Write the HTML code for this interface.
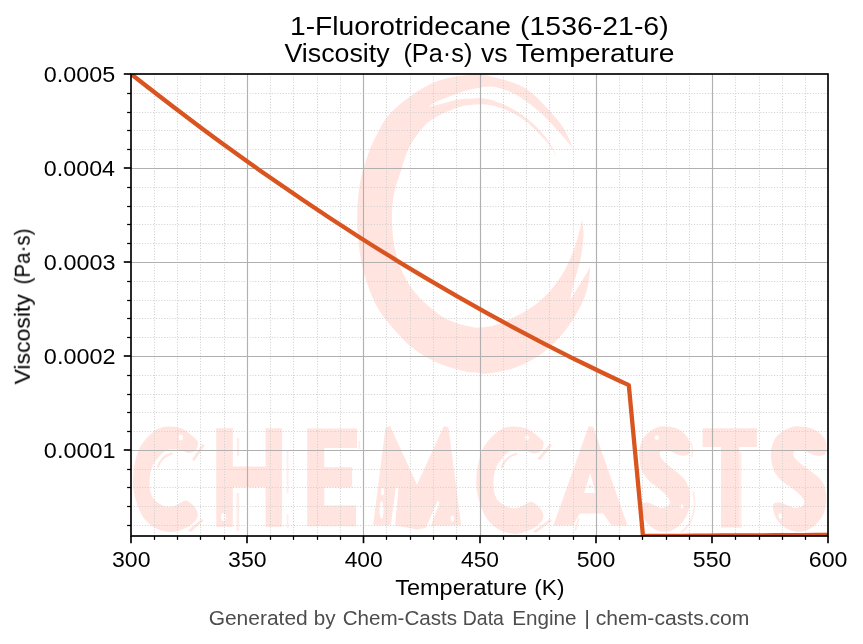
<!DOCTYPE html>
<html lang="en"><head><meta charset="utf-8"><title>1-Fluorotridecane Viscosity vs Temperature</title>
<style>html,body{margin:0;padding:0;background:#fff;}body{width:863px;height:644px;overflow:hidden;font-family:"Liberation Sans",sans-serif;}svg{display:block;}</style></head>
<body>
<svg width="863" height="644" viewBox="0 0 863 644">
<rect width="863" height="644" fill="#fff"/>
<defs><clipPath id="ax"><rect x="131.0" y="74.0" width="697.0" height="462.0"/></clipPath></defs>
<g clip-path="url(#ax)" fill="#ffe4df" stroke="none">
<path d="M480.0 373.0 C477.4 372.7 471.1 372.8 464.3 371.2 C457.5 369.6 447.6 367.2 439.3 363.6 C431.0 360.0 422.0 355.2 414.3 349.3 C406.6 343.4 399.4 335.6 392.9 327.9 C386.3 320.2 380.1 313.0 375.0 302.9 C369.9 292.8 365.4 279.0 362.5 267.1 C359.6 255.2 358.5 241.8 357.7 231.4 C356.9 221.1 357.2 213.4 357.6 205.0 C358.1 196.6 359.0 188.4 360.4 181.0 C361.8 173.6 363.6 167.6 366.0 160.5 C368.4 153.4 371.1 145.9 374.9 138.3 C378.7 130.7 382.6 122.2 388.8 115.0 C395.0 107.8 404.6 100.3 412.1 94.9 C419.6 89.5 426.4 85.5 433.9 82.4 C441.4 79.3 449.5 77.5 457.2 76.2 C464.9 75.0 474.0 74.8 480.0 74.9 C486.0 75.0 487.2 75.5 493.3 77.0 C499.4 78.5 510.1 81.3 516.6 84.0 C523.1 86.7 526.9 89.2 532.1 93.3 C537.3 97.4 542.5 103.1 547.7 108.8 C552.9 114.5 558.9 120.8 563.2 127.5 C567.5 134.2 571.6 145.6 573.3 149.2 C571.6 147.1 567.5 141.7 563.2 136.8 C558.9 131.9 552.9 124.9 547.7 119.7 C542.5 114.5 537.3 109.8 532.1 105.7 C526.9 101.6 521.8 97.8 516.6 94.9 C511.4 92.1 505.4 90.0 501.0 88.6 C496.6 87.2 494.3 86.5 490.0 86.5 C485.7 86.5 480.2 87.4 475.0 88.5 C469.8 89.6 465.0 90.8 458.7 93.0 C452.4 95.2 442.1 99.2 437.0 101.5 C431.9 103.8 429.8 106.1 428.4 107.0 C429.8 106.7 431.9 106.2 437.0 105.0 C442.1 103.8 453.2 100.5 458.7 99.5 C464.2 98.5 465.5 98.8 470.0 98.7 C474.5 98.6 480.3 97.9 485.5 98.7 C490.7 99.5 495.8 101.3 501.0 103.4 C506.2 105.5 511.4 108.0 516.6 111.2 C521.8 114.4 526.9 118.0 532.1 122.8 C537.3 127.6 543.4 134.0 547.7 139.9 C552.0 145.8 556.1 155.4 557.8 158.5 C556.1 155.9 552.0 148.3 547.7 143.0 C543.4 137.7 537.3 131.4 532.1 126.7 C526.9 122.0 521.8 118.1 516.6 115.0 C511.4 111.9 506.2 109.8 501.0 108.0 C495.8 106.2 490.7 105.0 485.5 104.5 C480.3 104.0 474.5 104.5 470.0 105.0 C465.5 105.5 464.2 105.4 458.7 107.3 C453.2 109.2 442.9 113.2 437.0 116.6 C431.1 120.0 427.7 122.3 423.0 127.5 C418.3 132.7 412.6 140.7 409.0 147.7 C405.4 154.7 403.9 161.4 401.3 169.4 C398.7 177.4 395.1 186.5 393.6 195.7 C392.1 204.8 391.8 214.8 392.1 224.3 C392.5 233.8 393.2 243.4 395.7 252.9 C398.2 262.4 402.2 273.1 407.1 281.4 C412.0 289.7 418.4 296.6 425.0 302.9 C431.6 309.1 439.2 315.0 446.4 318.9 C453.5 322.8 462.3 324.7 467.9 326.1 C473.5 327.5 474.7 327.9 480.0 327.5 C485.3 327.1 491.3 326.9 499.5 323.8 C507.7 320.7 520.6 314.4 529.0 309.0 C537.4 303.6 543.7 297.8 549.6 291.4 C555.5 285.0 560.1 278.2 564.3 270.8 C568.5 263.4 572.0 254.6 574.7 247.2 C577.4 239.8 579.3 231.2 580.5 226.5 C581.7 221.8 581.8 220.4 582.0 219.2 C582.2 221.9 583.8 228.8 583.5 235.4 C583.2 242.0 582.2 250.7 580.5 259.0 C578.8 267.4 574.9 278.6 573.2 285.5 C571.5 292.4 570.7 297.8 570.2 300.2 C571.7 297.8 576.3 289.9 579.0 285.5 C581.7 281.1 584.5 276.9 586.4 273.7 C588.3 270.5 589.6 267.5 590.3 266.3 C589.9 269.5 589.4 279.4 588.0 285.5 C586.6 291.6 585.0 296.8 582.0 303.2 C579.0 309.6 574.6 317.4 570.2 323.8 C565.8 330.2 560.9 336.1 555.5 341.5 C550.1 346.9 544.7 351.9 537.8 356.3 C530.9 360.7 522.6 365.1 514.2 368.0 C505.9 370.9 493.4 372.8 487.7 373.6 C482.0 374.4 481.3 373.1 480.0 373.0 Z"/>
<path d="M198.0 443.8 C198.2 442.1 198.4 442.0 196.8 440.2 C195.2 438.4 191.1 434.8 188.5 432.8 C185.9 430.8 184.2 429.4 181.2 428.3 C178.1 427.2 173.9 426.4 170.2 426.4 C166.5 426.4 162.9 426.6 159.2 428.3 C155.5 430.0 151.6 433.0 148.2 436.5 C144.8 440.0 141.3 444.4 139.0 449.3 C136.7 454.2 135.4 460.7 134.4 465.9 C133.4 471.1 133.2 476.5 133.1 480.5 C132.9 484.5 132.8 485.7 133.5 489.7 C134.2 493.7 135.4 499.5 137.2 504.4 C139.0 509.3 141.4 515.0 144.5 519.0 C147.6 523.0 151.5 526.1 155.5 528.2 C159.5 530.4 164.7 531.4 168.4 531.9 C172.1 532.4 174.2 531.9 177.5 531.0 C180.8 530.1 185.4 528.2 188.5 526.4 C191.6 524.6 194.4 522.1 195.9 520.0 C197.4 517.9 198.0 515.9 197.7 513.6 C197.4 511.3 195.8 508.4 194.0 506.2 C192.2 504.0 188.8 501.3 186.7 500.7 C184.6 500.1 183.3 501.6 181.2 502.5 C179.1 503.4 176.7 505.6 173.9 506.2 C171.2 506.8 167.8 507.1 164.7 506.2 C161.6 505.3 157.8 502.8 155.5 500.7 C153.2 498.6 151.9 496.8 150.9 493.4 C149.9 490.0 149.4 484.8 149.6 480.5 C149.8 476.2 150.5 471.4 151.8 467.7 C153.1 464.0 155.2 461.2 157.3 458.5 C159.5 455.8 162.2 452.7 164.7 451.2 C167.1 449.7 169.2 449.4 172.0 449.3 C174.8 449.2 178.4 449.7 181.2 450.3 C183.9 450.9 186.1 453.0 188.5 453.0 C190.9 453.0 194.3 451.8 195.9 450.3 C197.5 448.8 197.8 445.5 198.0 443.8 Z"/>
<path d="M202.6 443.6L204.6 445.6L194.4 461L192 459.6Z"/>
<path d="M201.6 519L203.4 520.8L190.8 532L188 530.4Z"/>
<path d="M216.3 428.2H232.8V466.5H265.6V428.2H282.1V526.7H265.6V487.2H232.8V526.7H216.3Z"/>
<path d="M307.2 428.4H357V448.1H324.2V467.2H352.1V487.5H324.2V505.6H356.1V526.3H307.2Z"/>
<path d="M373.1 525.2L385.6 427.2L390.2 426.3L417 484.8L443.8 426.3L448.4 427.2L461.2 525.2L436.5 525.8L417 529.5L397 525.8Z"/>
<path d="M543.6 444.1 C543.8 442.4 544.0 442.3 542.4 440.4 C540.7 438.6 536.5 434.9 533.8 432.9 C531.1 430.9 529.4 429.4 526.2 428.3 C523.0 427.2 518.6 426.4 514.8 426.4 C511.0 426.4 507.2 426.6 503.4 428.3 C499.6 430.0 495.5 433.1 492.0 436.7 C488.5 440.2 484.9 444.7 482.5 449.7 C480.1 454.7 478.8 461.3 477.7 466.6 C476.7 471.9 476.6 477.4 476.4 481.4 C476.2 485.5 476.1 486.7 476.8 490.8 C477.5 494.8 478.7 500.8 480.6 505.7 C482.5 510.7 485.0 516.5 488.2 520.6 C491.4 524.6 495.5 527.8 499.6 529.9 C503.7 532.1 509.2 533.2 513.0 533.7 C516.7 534.2 518.9 533.7 522.4 532.8 C525.8 531.9 530.6 530.0 533.8 528.1 C536.9 526.2 539.8 523.8 541.4 521.6 C543.0 519.4 543.6 517.4 543.3 515.1 C543.0 512.7 541.4 509.7 539.5 507.6 C537.6 505.4 534.1 502.6 531.9 502.0 C529.7 501.3 528.4 502.9 526.2 503.8 C524.0 504.7 521.5 506.9 518.6 507.6 C515.8 508.2 512.3 508.5 509.1 507.6 C505.9 506.6 502.0 504.1 499.6 502.0 C497.2 499.8 495.8 498.0 494.8 494.5 C493.8 491.1 493.3 485.8 493.5 481.4 C493.6 477.1 494.4 472.1 495.8 468.4 C497.1 464.7 499.2 461.8 501.5 459.0 C503.7 456.3 506.6 453.2 509.1 451.6 C511.7 450.1 513.8 449.8 516.7 449.7 C519.5 449.5 523.4 450.1 526.2 450.7 C529.1 451.3 531.2 453.5 533.8 453.5 C536.3 453.5 539.8 452.3 541.4 450.7 C543.1 449.1 543.4 445.8 543.6 444.1 Z"/>
<path d="M550 443.6L552 445.6L540 460.2L537.6 458.6Z"/>
<path d="M550 519L552 520.8L535.8 533L533 531.4Z"/>
<path fill-rule="evenodd" d="M553.4 525.5L588.6 426.6L593 426.6L627.5 525.5L611.4 525.5L603.3 513.4H579.8L572.9 525.5ZM590.3 473L584.1 492.9H595.3Z"/>
<path d="M702.6 428.2H757V447H739V527.6H721V447H702.6Z"/>
</g>
<g clip-path="url(#ax)" fill="#ffe4df" stroke="none">
<path d="M665.2 426.4 C668.2 426.5 672.9 427.0 676.1 428.2 C679.3 429.4 682.2 431.7 684.4 433.7 C686.5 435.7 688.1 437.9 689.0 440.2 C689.9 442.5 689.9 445.2 689.9 447.5 C689.9 449.8 690.1 452.5 689.0 453.9 C687.9 455.3 685.3 455.5 683.5 455.7 C681.7 455.9 680.1 455.6 678.0 454.8 C675.9 454.1 673.1 452.0 670.6 451.2 C668.1 450.4 665.1 449.9 663.3 450.2 C661.5 450.5 660.0 451.6 659.7 453.0 C659.4 454.4 660.0 456.4 661.5 458.5 C663.0 460.6 666.0 463.4 668.8 465.8 C671.5 468.2 675.2 470.7 678.0 473.1 C680.8 475.6 683.5 477.8 685.3 480.5 C687.1 483.2 688.2 486.2 689.0 489.6 C689.8 493.0 690.0 496.9 689.9 500.6 C689.8 504.3 689.2 508.2 688.1 511.6 C687.0 515.0 685.5 518.0 683.5 520.8 C681.5 523.5 678.9 526.3 676.1 528.1 C673.4 529.9 670.4 531.5 667.0 531.8 C663.6 532.1 659.4 531.5 656.0 530.0 C652.6 528.5 649.1 525.4 646.8 522.6 C644.5 519.9 643.1 516.5 642.2 513.5 C641.3 510.4 640.5 506.1 641.3 504.3 C642.1 502.5 644.6 502.4 646.8 502.5 C648.9 502.6 651.8 504.3 654.2 505.2 C656.7 506.1 659.2 507.9 661.5 508.0 C663.8 508.1 666.5 507.2 667.9 506.1 C669.3 505.0 670.0 503.3 669.7 501.5 C669.4 499.7 668.1 497.4 666.1 495.1 C664.1 492.8 660.7 490.2 657.8 487.8 C654.9 485.4 651.3 483.2 648.7 480.5 C646.1 477.8 643.7 474.7 642.2 471.3 C640.7 467.9 640.0 464.0 639.5 460.3 C639.0 456.6 638.9 453.0 639.5 449.3 C640.1 445.6 641.4 441.4 643.2 438.3 C645.0 435.2 648.1 432.8 650.5 431.0 C652.9 429.2 655.3 428.1 657.8 427.3 C660.2 426.5 662.2 426.2 665.2 426.4 Z"/>
<path d="M799.3 426.4 C802.7 426.5 807.7 427.0 811.2 428.2 C814.7 429.4 818.0 431.7 820.3 433.7 C822.6 435.7 824.3 437.9 825.3 440.2 C826.3 442.5 826.3 445.2 826.3 447.5 C826.3 449.8 826.5 452.5 825.3 453.9 C824.2 455.3 821.3 455.5 819.3 455.7 C817.3 455.9 815.7 455.6 813.3 454.8 C811.0 454.1 807.9 452.0 805.2 451.2 C802.6 450.4 799.3 449.9 797.3 450.2 C795.3 450.5 793.7 451.6 793.3 453.0 C793.0 454.4 793.7 456.4 795.3 458.5 C797.0 460.6 800.3 463.4 803.3 465.8 C806.3 468.2 810.3 470.7 813.3 473.1 C816.3 475.6 819.3 477.8 821.3 480.5 C823.3 483.2 824.5 486.2 825.3 489.6 C826.2 493.0 826.5 496.9 826.3 500.6 C826.1 504.3 825.5 508.2 824.3 511.6 C823.2 515.0 821.5 518.0 819.3 520.8 C817.1 523.5 814.2 526.3 811.2 528.1 C808.2 529.9 805.0 531.5 801.3 531.8 C797.7 532.1 793.0 531.5 789.3 530.0 C785.6 528.5 781.8 525.4 779.3 522.6 C776.8 519.9 775.2 516.5 774.2 513.5 C773.2 510.4 772.4 506.1 773.3 504.3 C774.1 502.5 776.9 502.4 779.3 502.5 C781.6 502.6 784.7 504.3 787.3 505.2 C790.0 506.1 792.8 507.9 795.3 508.0 C797.8 508.1 800.8 507.2 802.3 506.1 C803.8 505.0 804.6 503.3 804.3 501.5 C803.9 499.7 802.5 497.4 800.3 495.1 C798.2 492.8 794.4 490.2 791.3 487.8 C788.1 485.4 784.2 483.2 781.3 480.5 C778.5 477.8 775.9 474.7 774.2 471.3 C772.6 467.9 771.8 464.0 771.3 460.3 C770.8 456.6 770.6 453.0 771.3 449.3 C772.0 445.6 773.3 441.4 775.3 438.3 C777.3 435.2 780.6 432.8 783.3 431.0 C786.0 429.2 788.6 428.1 791.3 427.3 C793.9 426.5 796.0 426.2 799.3 426.4 Z"/>
<path opacity="0.75" d="M237 438h2.2v18h-2.2zM236.6 493h2.6v38h-2.6zM286.8 450h1.6v43h-1.6zM286.8 514h1.6v14h-1.6zM739 452h2.4v76h-2.4zM358.5 441h1.6v8h-1.6z"/>
<path fill="none" stroke="#ffe4df" stroke-width="2" d="M157.6 467.5C159.5 460.5 164.5 455.5 172.5 453.2M501.6 468C503.6 461 508.8 456 517 453.6"/>
<path fill="none" stroke="#ffe4df" stroke-width="1.6" opacity="0.8" d="M693.4 492C695.6 503 694.6 514 689.8 523C687 527.6 684 530.4 681 532.4M690.6 442.5C692.8 447 693 452 691.6 457M575.4 530L579 518"/>
<circle cx="590" cy="486.5" r="1.6"/>
</g>
<g clip-path="url(#ax)" fill="#fff">
<ellipse cx="180.9" cy="437.5" rx="2.2" ry="3"/>
<ellipse cx="223.4" cy="517" rx="2.5" ry="4"/>
<ellipse cx="527" cy="437.5" rx="2" ry="2.6"/>
<ellipse cx="452.3" cy="518.8" rx="1.8" ry="3"/>
<ellipse cx="381.5" cy="510" rx="2" ry="9"/>
<ellipse cx="382.5" cy="491.5" rx="1.6" ry="4"/>
<ellipse cx="656.8" cy="437.6" rx="2.2" ry="2.4"/>
<ellipse cx="662" cy="453.5" rx="1.8" ry="1.6"/>
<ellipse cx="682" cy="506.5" rx="1.8" ry="2"/>
<ellipse cx="780.2" cy="516" rx="1.7" ry="3"/>
<ellipse cx="330" cy="453.5" rx="1.4" ry="3"/>
<path d="M396 486L398.5 489L394.5 531L390 531Z"/><path d="M437.7 500.4L439.5 503L429 531L424.5 531Z"/>
</g>
<g stroke="#d0d0d0" stroke-width="1.04" stroke-dasharray="1.04 1.72" fill="none">
<path d="M154.5 74.0V536.0"/>
<path d="M177.5 74.0V536.0"/>
<path d="M200.5 74.0V536.0"/>
<path d="M224.5 74.0V536.0"/>
<path d="M270.5 74.0V536.0"/>
<path d="M293.5 74.0V536.0"/>
<path d="M317.5 74.0V536.0"/>
<path d="M340.5 74.0V536.0"/>
<path d="M386.5 74.0V536.0"/>
<path d="M410.5 74.0V536.0"/>
<path d="M433.5 74.0V536.0"/>
<path d="M456.5 74.0V536.0"/>
<path d="M503.5 74.0V536.0"/>
<path d="M526.5 74.0V536.0"/>
<path d="M549.5 74.0V536.0"/>
<path d="M573.5 74.0V536.0"/>
<path d="M619.5 74.0V536.0"/>
<path d="M642.5 74.0V536.0"/>
<path d="M666.5 74.0V536.0"/>
<path d="M689.5 74.0V536.0"/>
<path d="M735.5 74.0V536.0"/>
<path d="M759.5 74.0V536.0"/>
<path d="M782.5 74.0V536.0"/>
<path d="M805.5 74.0V536.0"/>
<path d="M131.0 525.5H828.0"/>
<path d="M131.0 506.5H828.0"/>
<path d="M131.0 487.5H828.0"/>
<path d="M131.0 469.5H828.0"/>
<path d="M131.0 431.5H828.0"/>
<path d="M131.0 412.5H828.0"/>
<path d="M131.0 394.5H828.0"/>
<path d="M131.0 375.5H828.0"/>
<path d="M131.0 337.5H828.0"/>
<path d="M131.0 318.5H828.0"/>
<path d="M131.0 300.5H828.0"/>
<path d="M131.0 281.5H828.0"/>
<path d="M131.0 243.5H828.0"/>
<path d="M131.0 224.5H828.0"/>
<path d="M131.0 206.5H828.0"/>
<path d="M131.0 187.5H828.0"/>
<path d="M131.0 149.5H828.0"/>
<path d="M131.0 130.5H828.0"/>
<path d="M131.0 112.5H828.0"/>
<path d="M131.0 93.5H828.0"/>
</g>
<g stroke="#b0b0b0" stroke-width="1.15" fill="none">
<path d="M247.5 74.0V536.0"/>
<path d="M363.5 74.0V536.0"/>
<path d="M480.5 74.0V536.0"/>
<path d="M596.5 74.0V536.0"/>
<path d="M712.5 74.0V536.0"/>
<path d="M131.0 168.5H828.0"/>
<path d="M131.0 262.5H828.0"/>
<path d="M131.0 356.5H828.0"/>
<path d="M131.0 450.5H828.0"/>
</g>
<path clip-path="url(#ax)" d="M131.2 74.1 L145.4 85.3 L159.6 96.3 L173.9 107.3 L188.1 118.0 L202.3 128.7 L216.5 139.2 L230.7 149.5 L244.9 159.8 L259.2 169.9 L273.4 179.8 L287.6 189.6 L301.8 199.3 L316.0 208.8 L330.2 218.3 L344.5 227.5 L358.7 236.7 L372.9 245.7 L387.1 254.5 L401.3 263.3 L415.5 271.9 L429.8 280.3 L444.0 288.7 L458.2 296.9 L472.4 304.9 L486.6 312.9 L500.8 320.7 L515.1 328.4 L529.3 335.9 L543.5 343.3 L557.7 350.6 L571.9 357.8 L586.1 364.8 L600.4 371.7 L614.6 378.5 L628.8 385.1 L643.0 536.0 L655.0 535.9 L668.5 535.9 L681.9 535.8 L695.4 535.7 L708.8 535.6 L722.3 535.5 L735.8 535.5 L749.2 535.4 L762.7 535.3 L776.2 535.2 L789.6 535.2 L803.1 535.1 L816.5 535.0 L830.0 534.9" fill="none" stroke="#d9541e" stroke-width="4.3" stroke-linejoin="round" stroke-linecap="butt"/>
<g stroke="#000" fill="none">
<path stroke-width="1.67" d="M131.0 536.0v7.2"/><path stroke-width="1.25" d="M154.5 536.0v3.9"/><path stroke-width="1.25" d="M177.5 536.0v3.9"/><path stroke-width="1.25" d="M200.5 536.0v3.9"/><path stroke-width="1.25" d="M224.5 536.0v3.9"/><path stroke-width="1.67" d="M247.0 536.0v7.2"/><path stroke-width="1.25" d="M270.5 536.0v3.9"/><path stroke-width="1.25" d="M293.5 536.0v3.9"/><path stroke-width="1.25" d="M317.5 536.0v3.9"/><path stroke-width="1.25" d="M340.5 536.0v3.9"/><path stroke-width="1.67" d="M363.5 536.0v7.2"/><path stroke-width="1.25" d="M386.5 536.0v3.9"/><path stroke-width="1.25" d="M410.5 536.0v3.9"/><path stroke-width="1.25" d="M433.5 536.0v3.9"/><path stroke-width="1.25" d="M456.5 536.0v3.9"/><path stroke-width="1.67" d="M480.0 536.0v7.2"/><path stroke-width="1.25" d="M503.5 536.0v3.9"/><path stroke-width="1.25" d="M526.5 536.0v3.9"/><path stroke-width="1.25" d="M549.5 536.0v3.9"/><path stroke-width="1.25" d="M573.5 536.0v3.9"/><path stroke-width="1.67" d="M596.0 536.0v7.2"/><path stroke-width="1.25" d="M619.5 536.0v3.9"/><path stroke-width="1.25" d="M642.5 536.0v3.9"/><path stroke-width="1.25" d="M666.5 536.0v3.9"/><path stroke-width="1.25" d="M689.5 536.0v3.9"/><path stroke-width="1.67" d="M712.0 536.0v7.2"/><path stroke-width="1.25" d="M735.5 536.0v3.9"/><path stroke-width="1.25" d="M759.5 536.0v3.9"/><path stroke-width="1.25" d="M782.5 536.0v3.9"/><path stroke-width="1.25" d="M805.5 536.0v3.9"/><path stroke-width="1.67" d="M828.0 536.0v7.2"/><path stroke-width="1.25" d="M131.0 525.5h-3.9"/><path stroke-width="1.25" d="M131.0 506.5h-3.9"/><path stroke-width="1.25" d="M131.0 487.5h-3.9"/><path stroke-width="1.25" d="M131.0 469.5h-3.9"/><path stroke-width="1.67" d="M131.0 450.0h-7.2"/><path stroke-width="1.25" d="M131.0 431.5h-3.9"/><path stroke-width="1.25" d="M131.0 412.5h-3.9"/><path stroke-width="1.25" d="M131.0 394.5h-3.9"/><path stroke-width="1.25" d="M131.0 375.5h-3.9"/><path stroke-width="1.67" d="M131.0 356.0h-7.2"/><path stroke-width="1.25" d="M131.0 337.5h-3.9"/><path stroke-width="1.25" d="M131.0 318.5h-3.9"/><path stroke-width="1.25" d="M131.0 300.5h-3.9"/><path stroke-width="1.25" d="M131.0 281.5h-3.9"/><path stroke-width="1.67" d="M131.0 262.0h-7.2"/><path stroke-width="1.25" d="M131.0 243.5h-3.9"/><path stroke-width="1.25" d="M131.0 224.5h-3.9"/><path stroke-width="1.25" d="M131.0 206.5h-3.9"/><path stroke-width="1.25" d="M131.0 187.5h-3.9"/><path stroke-width="1.67" d="M131.0 168.0h-7.2"/><path stroke-width="1.25" d="M131.0 149.5h-3.9"/><path stroke-width="1.25" d="M131.0 130.5h-3.9"/><path stroke-width="1.25" d="M131.0 112.5h-3.9"/><path stroke-width="1.25" d="M131.0 93.5h-3.9"/><path stroke-width="1.67" d="M131.0 74.0h-7.2"/>
<rect x="131.0" y="74.0" width="697.0" height="462.0" stroke-width="1.67"/>
</g>
<g font-family='"Liberation Sans", sans-serif' style="opacity:0.999">
<text y="34.7" font-size="26.5" fill="#000"><tspan x="290.05" textLength="221.0" lengthAdjust="spacingAndGlyphs">1-Fluorotridecane</tspan> <tspan x="520.04" textLength="148.63" lengthAdjust="spacingAndGlyphs">(1536-21-6)</tspan></text>
<text y="61.9" font-size="26.5" fill="#000"><tspan x="284.48" textLength="105.17" lengthAdjust="spacingAndGlyphs">Viscosity</tspan> <tspan x="403.43" textLength="68.94" lengthAdjust="spacingAndGlyphs">(Pa·s)</tspan> <tspan x="480.91" textLength="26.65" lengthAdjust="spacingAndGlyphs">vs</tspan> <tspan x="515.68" textLength="158.86" lengthAdjust="spacingAndGlyphs">Temperature</tspan></text>
<text y="81.8" font-size="22.1" fill="#000"><tspan x="43.89" textLength="71.49" lengthAdjust="spacingAndGlyphs">0.0005</tspan></text>
<text y="175.8" font-size="22.1" fill="#000"><tspan x="43.89" textLength="71.19" lengthAdjust="spacingAndGlyphs">0.0004</tspan></text>
<text y="269.8" font-size="22.1" fill="#000"><tspan x="43.89" textLength="71.54" lengthAdjust="spacingAndGlyphs">0.0003</tspan></text>
<text y="363.8" font-size="22.1" fill="#000"><tspan x="43.88" textLength="71.69" lengthAdjust="spacingAndGlyphs">0.0002</tspan></text>
<text y="457.8" font-size="22.1" fill="#000"><tspan x="43.88" textLength="71.66" lengthAdjust="spacingAndGlyphs">0.0001</tspan></text>
<text y="567.0" font-size="22.1" fill="#000"><tspan x="112.02" textLength="38.48" lengthAdjust="spacingAndGlyphs">300</tspan></text>
<text y="567.0" font-size="22.1" fill="#000"><tspan x="228.12" textLength="38.48" lengthAdjust="spacingAndGlyphs">350</tspan></text>
<text y="567.0" font-size="22.1" fill="#000"><tspan x="344.68" textLength="38.12" lengthAdjust="spacingAndGlyphs">400</tspan></text>
<text y="567.0" font-size="22.1" fill="#000"><tspan x="460.98" textLength="38.12" lengthAdjust="spacingAndGlyphs">450</tspan></text>
<text y="567.0" font-size="22.1" fill="#000"><tspan x="576.78" textLength="38.53" lengthAdjust="spacingAndGlyphs">500</tspan></text>
<text y="567.0" font-size="22.1" fill="#000"><tspan x="692.88" textLength="38.53" lengthAdjust="spacingAndGlyphs">550</tspan></text>
<text y="567.0" font-size="22.1" fill="#000"><tspan x="808.72" textLength="38.79" lengthAdjust="spacingAndGlyphs">600</tspan></text>
<text y="594.8" font-size="22.1" fill="#000"><tspan x="395.28" textLength="131.74" lengthAdjust="spacingAndGlyphs">Temperature</tspan> <tspan x="534.29" textLength="30.21" lengthAdjust="spacingAndGlyphs">(K)</tspan></text>
<text y="0" font-size="22.1" fill="#000" transform="translate(29.8 384.4) rotate(-90)"><tspan x="-0.1" textLength="90.25" lengthAdjust="spacingAndGlyphs">Viscosity</tspan> <tspan x="100.03" textLength="55.95" lengthAdjust="spacingAndGlyphs">(Pa·s)</tspan></text>
<text y="624.6" font-size="19.9" fill="#4d4d4d"><tspan x="208.65" textLength="99.11" lengthAdjust="spacingAndGlyphs">Generated</tspan> <tspan x="313.87" textLength="21.77" lengthAdjust="spacingAndGlyphs">by</tspan> <tspan x="342.65" textLength="114.49" lengthAdjust="spacingAndGlyphs">Chem-Casts</tspan> <tspan x="462.8" textLength="41.1" lengthAdjust="spacingAndGlyphs">Data</tspan> <tspan x="512.2" textLength="64.42" lengthAdjust="spacingAndGlyphs">Engine</tspan> <tspan x="584.22" textLength="5.77" lengthAdjust="spacingAndGlyphs">|</tspan> <tspan x="595.7" textLength="153.79" lengthAdjust="spacingAndGlyphs">chem-casts.com</tspan></text>
</g>
</svg>
</body></html>
